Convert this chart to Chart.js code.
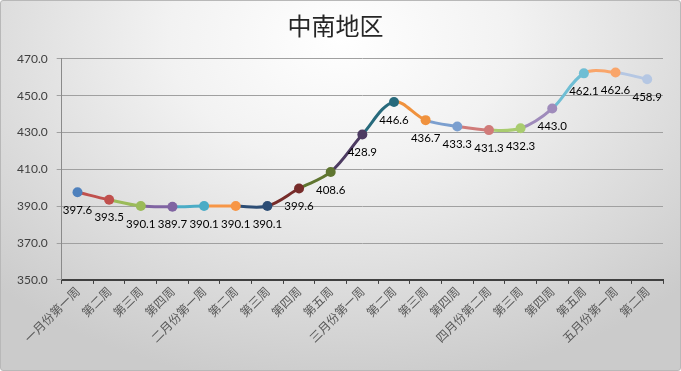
<!DOCTYPE html>
<html>
<head>
<meta charset="utf-8">
<script src="https://cdn.jsdelivr.net/npm/chart.js@4.4.1/dist/chart.umd.min.js"></script>
<style>
  html, body { margin: 0; padding: 0; }
  body { width: 681px; height: 371px; overflow: hidden; }
  #wrap {
    position: absolute; left: 0; top: 0; width: 679px; height: 369px;
    border: 1px solid #b8b8b8; border-radius: 3px;
    background: radial-gradient(ellipse 72% 95% at 50% 10%, #ffffff 0%, #f2f2f2 35%, #dadada 75%, #cbcbcb 100%);
  }
  canvas { position: absolute; left: 0; top: 0; }
</style>
</head>
<body>
<div id="wrap"><canvas id="c" width="681" height="371"></canvas></div>
<script>
const titleText = '中南地区';
const categories = ['一月份第一周','第二周','第三周','第四周','二月份第一周','第二周','第三周','第四周','第五周','三月份第一周','第二周','第三周','第四周','四月份第二周','第三周','第四周','第五周','五月份第一周','第二周'];
const values = [397.6, 393.5, 390.1, 389.7, 390.1, 390.1, 390.1, 399.6, 408.6, 428.9, 446.6, 436.7, 433.3, 431.3, 432.3, 443.0, 462.1, 462.6, 458.9];
const pointColors = ['#4F81BD','#C0504D','#9BBB59','#8064A2','#4BACC6','#F79646','#2C4D75','#772C2A','#5F7530','#4D3B62','#276A7C','#F0923E','#7B9FCF','#D07B79','#A9CC6F','#9F8BBB','#6FBED4','#F9A56A','#B5C7E3'];
const yMin = 350, yMax = 470, yStep = 20;

const dataLabels = {
  id: 'dataLabels',
  afterDatasetsDraw(chart) {
    const ctx = chart.ctx;
    const meta = chart.getDatasetMeta(0);
    ctx.save();
    ctx.font = '11.5px Lato, "Open Sans", sans-serif';
    ctx.fillStyle = '#000000';
    ctx.textAlign = 'center';
    ctx.textBaseline = 'middle';
    meta.data.forEach((pt, i) => {
      ctx.fillText(values[i].toFixed(1), pt.x, pt.y + 18);
    });
    ctx.restore();
  }
};

new Chart(document.getElementById('c'), {
  type: 'line',
  data: {
    labels: categories,
    datasets: [{
      data: values,
      borderWidth: 3,
      tension: 0.35,
      pointRadius: 5,
      pointHoverRadius: 5,
      pointBorderWidth: 0,
      pointBackgroundColor: pointColors,
      pointBorderColor: pointColors,
      borderColor: pointColors[0],
      segment: {
        borderColor: c => pointColors[c.p1DataIndex]
      },
      fill: false
    }]
  },
  options: {
    responsive: false,
    animation: false,
    events: [],
    layout: { padding: { left: 7, right: 19, top: 0, bottom: 27 } },
    plugins: {
      legend: { display: false },
      tooltip: { enabled: false },
      title: {
        display: true,
        text: titleText,
        color: '#262626',
        font: { family: '"Noto Sans CJK SC"', size: 24, weight: 'normal' },
        padding: { top: 10, bottom: 19 }
      }
    },
    scales: {
      x: {
        offset: true,
        grid: { drawOnChartArea: false, drawTicks: true, tickLength: 4, color: '#404040', offset: true },
        border: { color: '#404040', width: 2 },
        ticks: {
          maxRotation: 45, minRotation: 45, autoSkip: false,
          color: '#595959',
          font: { family: '"Noto Sans CJK SC"', size: 12 },
          padding: 0
        }
      },
      y: {
        min: yMin, max: yMax,
        grid: { color: '#a0a0a0', tickLength: 5, lineWidth: 1 },
        border: { color: '#8a8a8a', width: 1 },
        ticks: {
          stepSize: yStep,
          color: '#404040',
          padding: 9,
          font: { family: 'Lato, "Open Sans", sans-serif', size: 12 },
          callback: v => Number(v).toFixed(1)
        }
      }
    }
  },
  plugins: [dataLabels]
});
</script>
</body>
</html>
